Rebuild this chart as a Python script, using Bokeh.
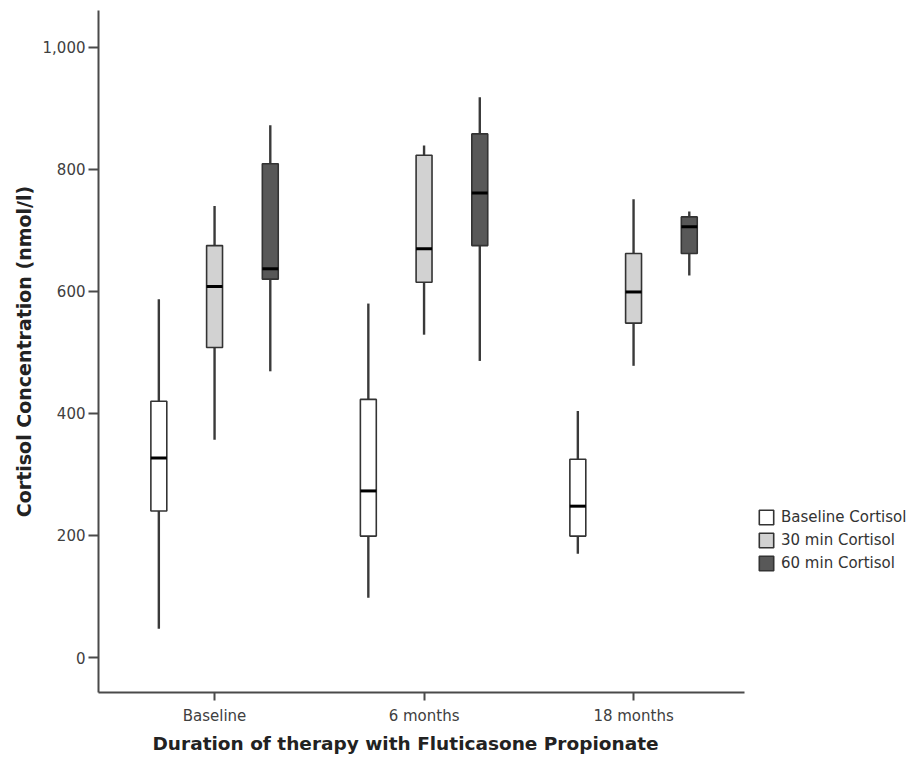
from bokeh.plotting import figure
from bokeh.models import (ColumnDataSource, Range1d, FixedTicker, NumeralTickFormatter,
                          Legend, LegendItem, Title)
from bokeh.transform import dodge
from bokeh.embed import file_html
from bokeh.resources import INLINE

categories = ["Baseline", "6 months", "18 months"]
series = ["Baseline Cortisol", "30 min Cortisol", "60 min Cortisol"]
y_ticks = [0, 200, 400, 600, 800, 1000]

# Box statistics per series, one value per category
base_lower = [47, 98, 170]
base_q1 = [240, 199, 199]
base_median = [327, 273, 248]
base_q3 = [420, 423, 325]
base_upper = [587, 580, 404]

m30_lower = [357, 529, 478]
m30_q1 = [508, 615, 548]
m30_median = [608, 670, 599]
m30_q3 = [675, 823, 662]
m30_upper = [740, 839, 751]

m60_lower = [469, 486, 626]
m60_q1 = [620, 675, 662]
m60_median = [637, 761, 706]
m60_q3 = [809, 858, 722]
m60_upper = [872, 918, 731]

fills = ["#ffffff", "#d2d2d2", "#585858"]
offsets = [-0.266, 0.0, 0.266]
box_w = 0.076

stats = [
    (base_lower, base_q1, base_median, base_q3, base_upper),
    (m30_lower, m30_q1, m30_median, m30_q3, m30_upper),
    (m60_lower, m60_q1, m60_median, m60_q3, m60_upper),
]

p = figure(width=914, height=758, output_backend="svg", toolbar_location=None,
           x_range=Range1d(-0.554, 3.341), y_range=Range1d(-57.3, 1060.2),
           min_border_left=98, min_border_right=0, min_border_top=10, min_border_bottom=66)
p.grid.visible = False
p.outline_line_color = None
p.background_fill_color = "white"

items = []
for name, (lo, q1, med, q3, up), fc, off in zip(series, stats, fills, offsets):
    src = ColumnDataSource(dict(x=list(range(len(categories))), lower=lo, q1=q1,
                                median=med, q3=q3, upper=up))
    p.segment(x0=dodge("x", off), y0="lower", x1=dodge("x", off), y1="q1", source=src,
              line_color="#3a3a3a", line_width=2.4)
    p.segment(x0=dodge("x", off), y0="q3", x1=dodge("x", off), y1="upper", source=src,
              line_color="#3a3a3a", line_width=2.4)
    r = p.vbar(x=dodge("x", off), width=box_w, bottom="q1", top="q3", source=src,
               fill_color=fc, line_color="#333333", line_width=1.6)
    p.segment(x0=dodge("x", off - box_w / 2), y0="median", x1=dodge("x", off + box_w / 2),
              y1="median", source=src, line_color="#000000", line_width=3)
    items.append(LegendItem(label=name, renderers=[r]))

# axes
p.xaxis.ticker = FixedTicker(ticks=list(range(len(categories))))
p.xaxis.major_label_overrides = {i: c for i, c in enumerate(categories)}
p.xaxis.bounds = (-0.554, 2.53)
p.xaxis.minor_tick_line_color = None
p.xaxis.major_tick_in = 0
p.xaxis.major_tick_out = 8
p.xaxis.major_label_standoff = 6

p.yaxis.ticker = FixedTicker(ticks=y_ticks)
p.yaxis.formatter = NumeralTickFormatter(format="0,0")
p.yaxis.minor_tick_line_color = None
p.yaxis.major_tick_in = 0
p.yaxis.major_tick_out = 10
p.yaxis.major_label_standoff = 3
p.yaxis.axis_label = "Cortisol Concentration (nmol/l)"
p.yaxis.axis_label_standoff = 5

for ax in (p.xaxis, p.yaxis):
    ax.axis_line_color = "#4a4a4a"
    ax.axis_line_width = 2
    ax.major_tick_line_color = "#4a4a4a"
    ax.major_tick_line_width = 2
    ax.major_label_text_font = "DejaVu Sans"
    ax.major_label_text_font_size = "15px"
    ax.major_label_text_color = "#404040"
    ax.axis_label_text_font = "DejaVu Sans"
    ax.axis_label_text_font_style = "bold"
    ax.axis_label_text_font_size = "19px"
    ax.axis_label_text_color = "#222222"

xtitle = Title(text="Duration of therapy with Fluticasone Propionate", align="left",
               offset=54, standoff=6, text_font="DejaVu Sans", text_font_style="bold",
               text_font_size="18.5px", text_color="#222222")
p.add_layout(xtitle, "below")

legend = Legend(items=items, location=(659, 120), orientation="vertical",
                glyph_width=18, glyph_height=18, spacing=5, label_standoff=6,
                padding=0, margin=0, border_line_color=None, background_fill_alpha=0,
                label_text_font="DejaVu Sans", label_text_font_size="15px",
                label_text_color="#333333", label_height=18)
p.add_layout(legend)

open("out.html", "w").write(file_html(p, INLINE))
